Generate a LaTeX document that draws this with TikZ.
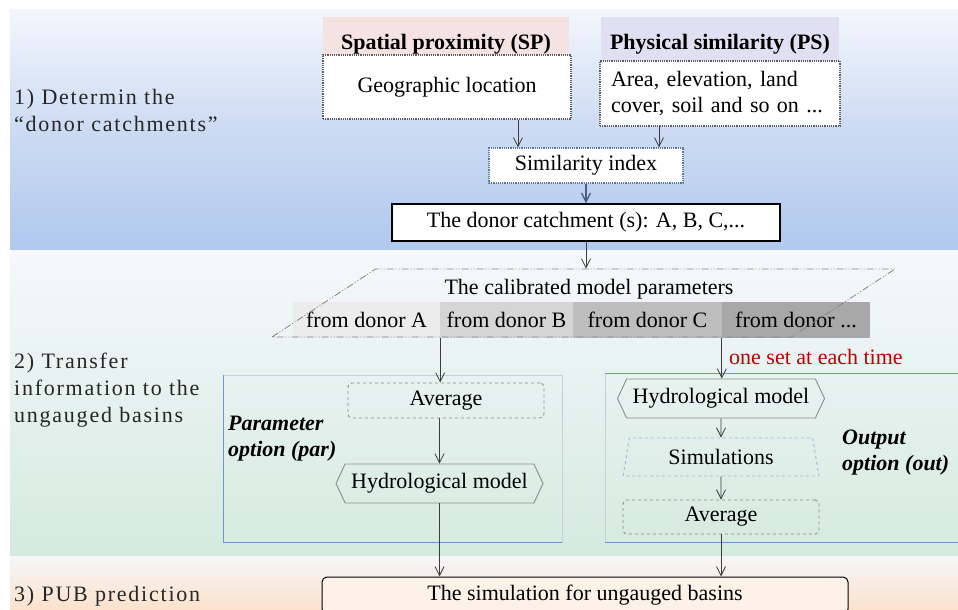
\documentclass[tikz,border=0pt]{standalone}
\usepackage{fontspec}
\setmainfont{Liberation Serif}
\usetikzlibrary{arrows.meta,shapes.geometric,shapes.symbols}

\definecolor{bandAt}{HTML}{F3F6FC}
\definecolor{bandAm}{HTML}{CCDBF3}
\definecolor{bandAb}{HTML}{B0C9EE}
\definecolor{bandBt}{HTML}{F5F8FC}
\definecolor{bandBm}{HTML}{E5F1EE}
\definecolor{bandBb}{HTML}{D4EADF}
\definecolor{bandCt}{HTML}{F6F6F9}
\definecolor{bandCb}{HTML}{FBE2CC}
\definecolor{spbg}{HTML}{F5E3E1}
\definecolor{psbg}{HTML}{E0E0F2}
\definecolor{dotgray}{HTML}{5E5E5E}
\definecolor{idxblue}{HTML}{5A78A6}
\definecolor{calgray}{HTML}{858585}
\definecolor{cellA}{HTML}{ECECEC}
\definecolor{cellB}{HTML}{D5D5D5}
\definecolor{cellC}{HTML}{BDBDBD}
\definecolor{cellD}{HTML}{A8A8A8}
\definecolor{setred}{HTML}{C00000}
\definecolor{boxgray}{HTML}{8C8C8C}
\definecolor{simblue}{HTML}{9DBBE0}
\definecolor{panelblue}{HTML}{6F95D2}
\definecolor{panellight}{HTML}{C5D0DC}
\definecolor{arrgray}{HTML}{3C3C3C}
\definecolor{finbg}{HTML}{FDF2E8}

\begin{document}
\begin{tikzpicture}[x=1pt,y=-1pt,
  every node/.style={font=\fontsize{22}{26}\selectfont, inner sep=0pt},
  hd/.style={font=\fontsize{22}{26}\selectfont\bfseries},
  dotbox/.style={draw=dotgray, densely dotted, line width=1.2, fill=white},
  dashbox/.style={draw=boxgray, dashed, line width=0.9, rounded corners=4, minimum width=196},
  hexbox/.style={signal, signal to=west and east, signal pointer angle=130, draw=boxgray, line width=0.9, minimum width=207, minimum height=39},
  cell/.style={minimum height=36},
  opt/.style={anchor=west, align=left, font=\fontsize{22}{26}\selectfont\bfseries\itshape},
  lbl/.style={anchor=west, align=left, text=black!85, font=\fontsize{22}{27}\selectfont\addfontfeature{LetterSpace=8}},
  arr/.style={draw=arrgray, line width=0.8, -{Straight Barb[length=9pt,width=9pt]}}]
\useasboundingbox (0,0) rectangle (958,610);

\shade[top color=bandAt, bottom color=bandAb, middle color=bandAm] (10,10) rectangle (958,250);
\shade[top color=bandBt, bottom color=bandBb, middle color=bandBm] (10,250) rectangle (958,556);
\shade[top color=bandCt, bottom color=bandCb] (10,556) rectangle (958,610);

\node[lbl] (stepOne) at (14,110.5) {1) Determin the\\“donor catchments”};
\node[lbl] (stepTwo) at (14,390) {2) Transfer\\information to the\\ungauged basins};
\node[lbl] (stepThree) at (14,596) {3) PUB prediction};

\node[hd, fill=spbg, minimum width=246, text height=33, text depth=5] (spHead) at (446,36) {Spatial proximity (SP)};
\node[hd, fill=psbg, minimum width=238, text height=33, text depth=11] (psHead) at (720,39) {Physical similarity (PS)};
\node[dotbox, minimum width=248, minimum height=64] (geo) at (447,87) {Geographic location};
\node[dotbox, minimum width=240, minimum height=65, text width=218, align=left] (area) at (720,93.5) {Area, elevation, land\\cover, soil and so on ...};
\node[dotbox, draw=idxblue, minimum width=194, minimum height=35] (simIdx) at (586,165.5) {Similarity index};
\node[draw=black, line width=1.3, fill=white, minimum width=388, minimum height=37] (donor) at (586,222.5) {The donor catchment (s): A, B, C,...};

\draw[arr] ([xshift=71]geo.south) -- ([xshift=71]geo.south |- simIdx.north);
\draw[arr] ([xshift=-61]area.south) -- ([xshift=-61]area.south |- simIdx.north);
\draw[arr, draw=idxblue!80!black, line width=1.3] (simIdx) -- (donor);

\node[cell, fill=cellA, minimum width=147] (cellA) at (366.5,320) {from donor A};
\node[cell, fill=cellB, minimum width=133] (cellB) at (506.5,320) {from donor B};
\node[cell, fill=cellC, minimum width=149] (cellC) at (647.5,320) {from donor C};
\node[cell, fill=cellD, minimum width=148] (cellD) at (796,320) {from donor ...};
\node[trapezium, trapezium left angle=76, trapezium right angle=104, trapezium stretches=true,
  inner sep=2pt, minimum width=623, minimum height=68, draw=calgray, line width=0.8,
  dash pattern=on 7pt off 2pt on 1pt off 2pt on 1pt off 2pt] (calib) at (583.5,303) {};
\node (calibTxt) at (589,289) {The calibrated model parameters};
\draw[arr] (donor.south) -- (donor.south |- calib.north);

\draw[panellight, line width=0.6] (223,375) rectangle (562,542);
\draw[panelblue, line width=0.8] (223,375) -- (223,542) -- (562,542);
\draw[panellight, line width=0.6] (605,373) -- (605,542);
\draw[panelblue, line width=0.9] (605,373) -- (958,373);
\draw[panelblue, line width=0.9] (605,542) -- (958,542);

\node[text=setred, anchor=west] (oneSet) at (729,357) {one set at each time};

\node[dashbox, minimum height=35] (avgPar) at (446,400.5) {Average};
\node[hexbox] (hydPar) at (439.5,483.5) {Hydrological model};
\node[opt] (parOpt) at (228,439) {Parameter\\option (par)};

\node[hexbox] (hydOut) at (721,398.5) {Hydrological model};
\node[trapezium, trapezium left angle=77, trapezium right angle=77, trapezium stretches=true,
  minimum width=196, minimum height=38, draw=simblue, dashed, line width=0.9] (simOut) at (721,457) {Simulations};
\node[dashbox, minimum height=34] (avgOut) at (721,517) {Average};
\node[opt] (outOpt) at (842,453) {Output\\option (out)};

\node[draw=black, line width=1, rounded corners=5, fill=finbg, minimum width=526, minimum height=37] (final) at (585,595.5) {The simulation for ungauged basins};

\draw[arr] (cellA.south east) -- (cellA.south east |- avgPar.north);
\draw[arr] (cellD.south west) -- (cellD.south west |- hydOut.north);
\draw[arr] (hydPar.north |- avgPar.south) -- (hydPar.north);
\draw[arr] (hydPar.south) -- (hydPar.south |- final.north);
\draw[arr] (hydOut) -- (simOut);
\draw[arr] (simOut) -- (avgOut);
\draw[arr] (avgOut.south) -- (avgOut.south |- final.north);
\end{tikzpicture}
\end{document}
